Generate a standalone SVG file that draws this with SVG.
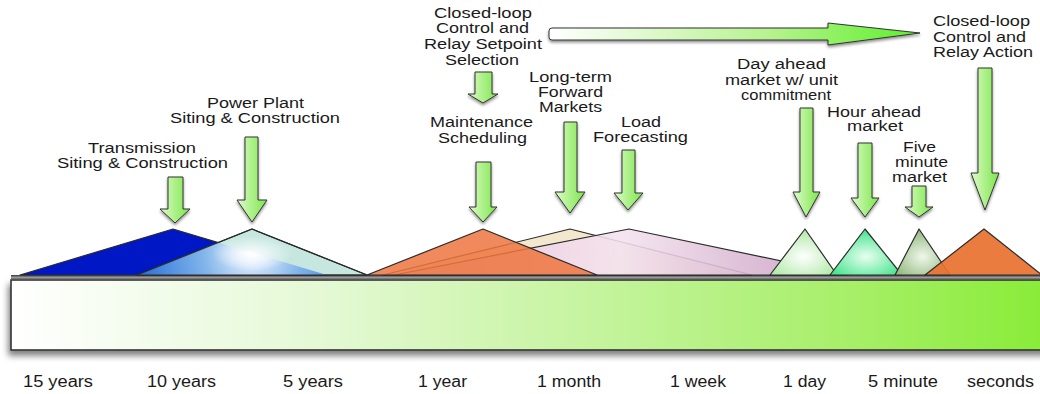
<svg xmlns="http://www.w3.org/2000/svg" width="1040" height="394" viewBox="0 0 1040 394">
<style>
text{font-family:"Liberation Sans",Arial,sans-serif;fill:#1a1a1a}
.lbl{font-size:14px}
.scale{font-size:16px}
.arr{fill:url(#arrG);stroke:#333;stroke-width:1;filter:url(#sh)}
.tri{stroke:#2b2b2b;stroke-width:1.2;stroke-linejoin:round}
</style>
<defs>
<filter id="sh" x="-30%" y="-10%" width="160%" height="130%">
<feGaussianBlur in="SourceAlpha" stdDeviation="1.6"/>
<feOffset dx="0" dy="2" result="b"/>
<feComponentTransfer><feFuncA type="linear" slope="0.45"/></feComponentTransfer>
<feMerge><feMergeNode/><feMergeNode in="SourceGraphic"/></feMerge>
</filter>
<filter id="barsh" x="-5%" y="-20%" width="110%" height="160%">
<feGaussianBlur in="SourceAlpha" stdDeviation="3"/>
<feOffset dx="-2" dy="5" result="b"/>
<feComponentTransfer><feFuncA type="linear" slope="0.5"/></feComponentTransfer>
<feMerge><feMergeNode/><feMergeNode in="SourceGraphic"/></feMerge>
</filter>
<linearGradient id="arrG" x1="0" y1="0" x2="1" y2="0">
<stop offset="0" stop-color="#dcfbc8"/>
<stop offset="1" stop-color="#7ce64a"/>
</linearGradient>
<linearGradient id="hArr" x1="0" y1="0" x2="1" y2="0">
<stop offset="0" stop-color="#ffffff"/>
<stop offset="0.6" stop-color="#b6f28e"/>
<stop offset="1" stop-color="#5cf02a"/>
</linearGradient>
<linearGradient id="barG" x1="0" y1="0" x2="1" y2="0">
<stop offset="0" stop-color="#ffffff"/>
<stop offset="0.3" stop-color="#e4f9d4"/>
<stop offset="0.55" stop-color="#c6f4a0"/>
<stop offset="0.8" stop-color="#a8ef6a"/>
<stop offset="1" stop-color="#88ec36"/>
</linearGradient>
<linearGradient id="rail" x1="0" y1="0" x2="0" y2="1">
<stop offset="0" stop-color="#3a3a3a"/>
<stop offset="0.5" stop-color="#9a9a9a"/>
<stop offset="1" stop-color="#444"/>
</linearGradient>
<radialGradient id="glowW" cx="0.5" cy="0.55" r="0.5">
<stop offset="0" stop-color="#ffffff" stop-opacity="0.95"/>
<stop offset="1" stop-color="#ffffff" stop-opacity="0"/>
</radialGradient>
<radialGradient id="blueOv" gradientUnits="userSpaceOnUse" cx="252" cy="252" r="110">
<stop offset="0" stop-color="#f4f9ff"/>
<stop offset="0.45" stop-color="#80b4ea"/>
<stop offset="1" stop-color="#2f74d8"/>
</radialGradient>
<linearGradient id="pinkG" x1="0" y1="0" x2="1" y2="0">
<stop offset="0" stop-color="#e6bee0"/>
<stop offset="0.5" stop-color="#f4e2ef"/>
<stop offset="1" stop-color="#c496bd"/>
</linearGradient>
<radialGradient id="dayG" cx="0.5" cy="0.6" r="0.6">
<stop offset="0" stop-color="#ffffff"/>
<stop offset="1" stop-color="#aee8a4"/>
</radialGradient>
<radialGradient id="hourG" cx="0.5" cy="0.6" r="0.6">
<stop offset="0" stop-color="#e8fff0"/>
<stop offset="1" stop-color="#3fe28a"/>
</radialGradient>
<radialGradient id="fiveG" cx="0.5" cy="0.6" r="0.6">
<stop offset="0" stop-color="#f0f7ea"/>
<stop offset="1" stop-color="#8fb67c"/>
</radialGradient>
<clipPath id="lbClip"><polygon points="137,275 252,229 367,275"/></clipPath>
</defs>

<rect width="1040" height="394" fill="#ffffff"/>

<g id="timeline-bar">
<rect x="11" y="280" width="1040" height="70" fill="url(#barG)" stroke="#333" stroke-width="1.6" filter="url(#barsh)"/>
<rect x="11" y="275" width="1040" height="5" fill="url(#rail)"/>
</g>

<g id="horizon-arrow">
<path d="M552 28 L828 28 L828 23 L920 33 L828 45 L828 40 L552 40 Q549 40 549 37 L549 31 Q549 28 552 28 Z" fill="url(#hArr)" stroke="#333" stroke-width="1" filter="url(#sh)"/>
</g>

<g id="transmission">
<polygon class="tri" points="20,275 173,229 327,275" fill="#0017c6"/>
</g>
<g id="power-plant">
<polygon class="tri" points="137,275 252,229 367,275" fill="#c6e7e0"/>
<polygon points="20,275 173,229 327,275" fill="url(#blueOv)" clip-path="url(#lbClip)"/>
<ellipse cx="252" cy="252" rx="40" ry="18" fill="url(#glowW)"/>
<polygon points="137,275 252,229 367,275" fill="none" stroke="#2b2b2b" stroke-width="1.2" stroke-linejoin="round"/>
</g>
<g id="long-term">
<polygon class="tri" points="383,275 570,229 752,275" fill="#f3e7cd"/>
</g>
<g id="load-forecast">
<polygon class="tri" points="394,275 629,229 848,275" fill="url(#pinkG)" fill-opacity="0.88"/>
</g>
<g id="maintenance">
<polygon class="tri" points="367,275 483,229 597,275" fill="#ee7640" fill-opacity="0.86"/>
</g>
<g id="day-ahead">
<polygon class="tri" points="770,275 805,229 837,275" fill="url(#dayG)"/>
</g>
<g id="hour-ahead">
<polygon class="tri" points="830,275 865,229 902,275" fill="url(#hourG)"/>
</g>
<g id="five-minute">
<polygon class="tri" points="895,275 919,229 950,275" fill="url(#fiveG)"/>
</g>
<g id="seconds">
<polygon class="tri" points="925,275 984,229 1042,275" fill="#ea7230" fill-opacity="0.93"/>
</g>

<g id="arrows">
<path class="arr" d="M168 177 L183 177 L183 209 L190 209 L175 223 L160 209 L168 209 Z"/>
<path class="arr" d="M245 137 L258 137 L258 200 L267 200 L252 222 L237 200 L245 200 Z"/>
<path class="arr" d="M475 72 L492 72 L492 94 L498 94 L483 103 L468 94 L475 94 Z"/>
<path class="arr" d="M476 162 L491 162 L491 207 L497 207 L483 222 L469 207 L476 207 Z"/>
<path class="arr" d="M564 122 L577 122 L577 192 L585 192 L570 213 L555 192 L564 192 Z"/>
<path class="arr" d="M622 150 L635 150 L635 193 L643 193 L628 210 L614 193 L622 193 Z"/>
<path class="arr" d="M800 108 L813 108 L813 192 L820 192 L806 217 L793 192 L800 192 Z"/>
<path class="arr" d="M858 143 L872 143 L872 198 L879 198 L865 217 L851 198 L858 198 Z"/>
<path class="arr" d="M912 186 L926 186 L926 207 L933 207 L919 217 L905 207 L912 207 Z"/>
<path class="arr" d="M978 68 L992 68 L992 173 L999 173 L985 210 L971 173 L978 173 Z"/>
</g>

<g id="labels" class="lbl">
<text class="lbl" x="88" y="153" textLength="108" lengthAdjust="spacingAndGlyphs">Transmission</text>
<text class="lbl" x="57" y="168" textLength="171" lengthAdjust="spacingAndGlyphs">Siting &amp; Construction</text>
<text class="lbl" x="207" y="108" textLength="97" lengthAdjust="spacingAndGlyphs">Power Plant</text>
<text class="lbl" x="170" y="123" textLength="170" lengthAdjust="spacingAndGlyphs">Siting &amp; Construction</text>
<text class="lbl" x="434" y="18" textLength="98" lengthAdjust="spacingAndGlyphs">Closed-loop</text>
<text class="lbl" x="436" y="33" textLength="93" lengthAdjust="spacingAndGlyphs">Control and</text>
<text class="lbl" x="424" y="49" textLength="118" lengthAdjust="spacingAndGlyphs">Relay Setpoint</text>
<text class="lbl" x="445" y="65" textLength="74" lengthAdjust="spacingAndGlyphs">Selection</text>
<text class="lbl" x="529" y="82" textLength="83" lengthAdjust="spacingAndGlyphs">Long-term</text>
<text class="lbl" x="538" y="97" textLength="65" lengthAdjust="spacingAndGlyphs">Forward</text>
<text class="lbl" x="539" y="112" textLength="63" lengthAdjust="spacingAndGlyphs">Markets</text>
<text class="lbl" x="430" y="127" textLength="103" lengthAdjust="spacingAndGlyphs">Maintenance</text>
<text class="lbl" x="438" y="143" textLength="89" lengthAdjust="spacingAndGlyphs">Scheduling</text>
<text class="lbl" x="621" y="127" textLength="40" lengthAdjust="spacingAndGlyphs">Load</text>
<text class="lbl" x="593" y="142" textLength="95" lengthAdjust="spacingAndGlyphs">Forecasting</text>
<text class="lbl" x="933" y="26" textLength="97" lengthAdjust="spacingAndGlyphs">Closed-loop</text>
<text class="lbl" x="933" y="42" textLength="93" lengthAdjust="spacingAndGlyphs">Control and</text>
<text class="lbl" x="933" y="57" textLength="100" lengthAdjust="spacingAndGlyphs">Relay Action</text>
<text class="lbl" x="737" y="69" textLength="89" lengthAdjust="spacingAndGlyphs">Day ahead</text>
<text class="lbl" x="725" y="85" textLength="113" lengthAdjust="spacingAndGlyphs">market w/ unit</text>
<text class="lbl" x="741" y="100" textLength="90" lengthAdjust="spacingAndGlyphs">commitment</text>
<text class="lbl" x="827" y="117" textLength="94" lengthAdjust="spacingAndGlyphs">Hour ahead</text>
<text class="lbl" x="847" y="131" textLength="56" lengthAdjust="spacingAndGlyphs">market</text>
<text class="lbl" x="903" y="152" textLength="33" lengthAdjust="spacingAndGlyphs">Five</text>
<text class="lbl" x="895" y="167" textLength="53" lengthAdjust="spacingAndGlyphs">minute</text>
<text class="lbl" x="892" y="182" textLength="55" lengthAdjust="spacingAndGlyphs">market</text>
</g>

<g id="scale-labels">
<text class="scale" x="23" y="387" textLength="70" lengthAdjust="spacingAndGlyphs">15 years</text>
<text class="scale" x="147" y="387" textLength="69" lengthAdjust="spacingAndGlyphs">10 years</text>
<text class="scale" x="283" y="387" textLength="60" lengthAdjust="spacingAndGlyphs">5 years</text>
<text class="scale" x="418" y="387" textLength="49" lengthAdjust="spacingAndGlyphs">1 year</text>
<text class="scale" x="537" y="387" textLength="64" lengthAdjust="spacingAndGlyphs">1 month</text>
<text class="scale" x="670" y="387" textLength="56" lengthAdjust="spacingAndGlyphs">1 week</text>
<text class="scale" x="783" y="387" textLength="43" lengthAdjust="spacingAndGlyphs">1 day</text>
<text class="scale" x="868" y="387" textLength="70" lengthAdjust="spacingAndGlyphs">5 minute</text>
<text class="scale" x="967" y="387" textLength="67" lengthAdjust="spacingAndGlyphs">seconds</text>
</g>
</svg>
